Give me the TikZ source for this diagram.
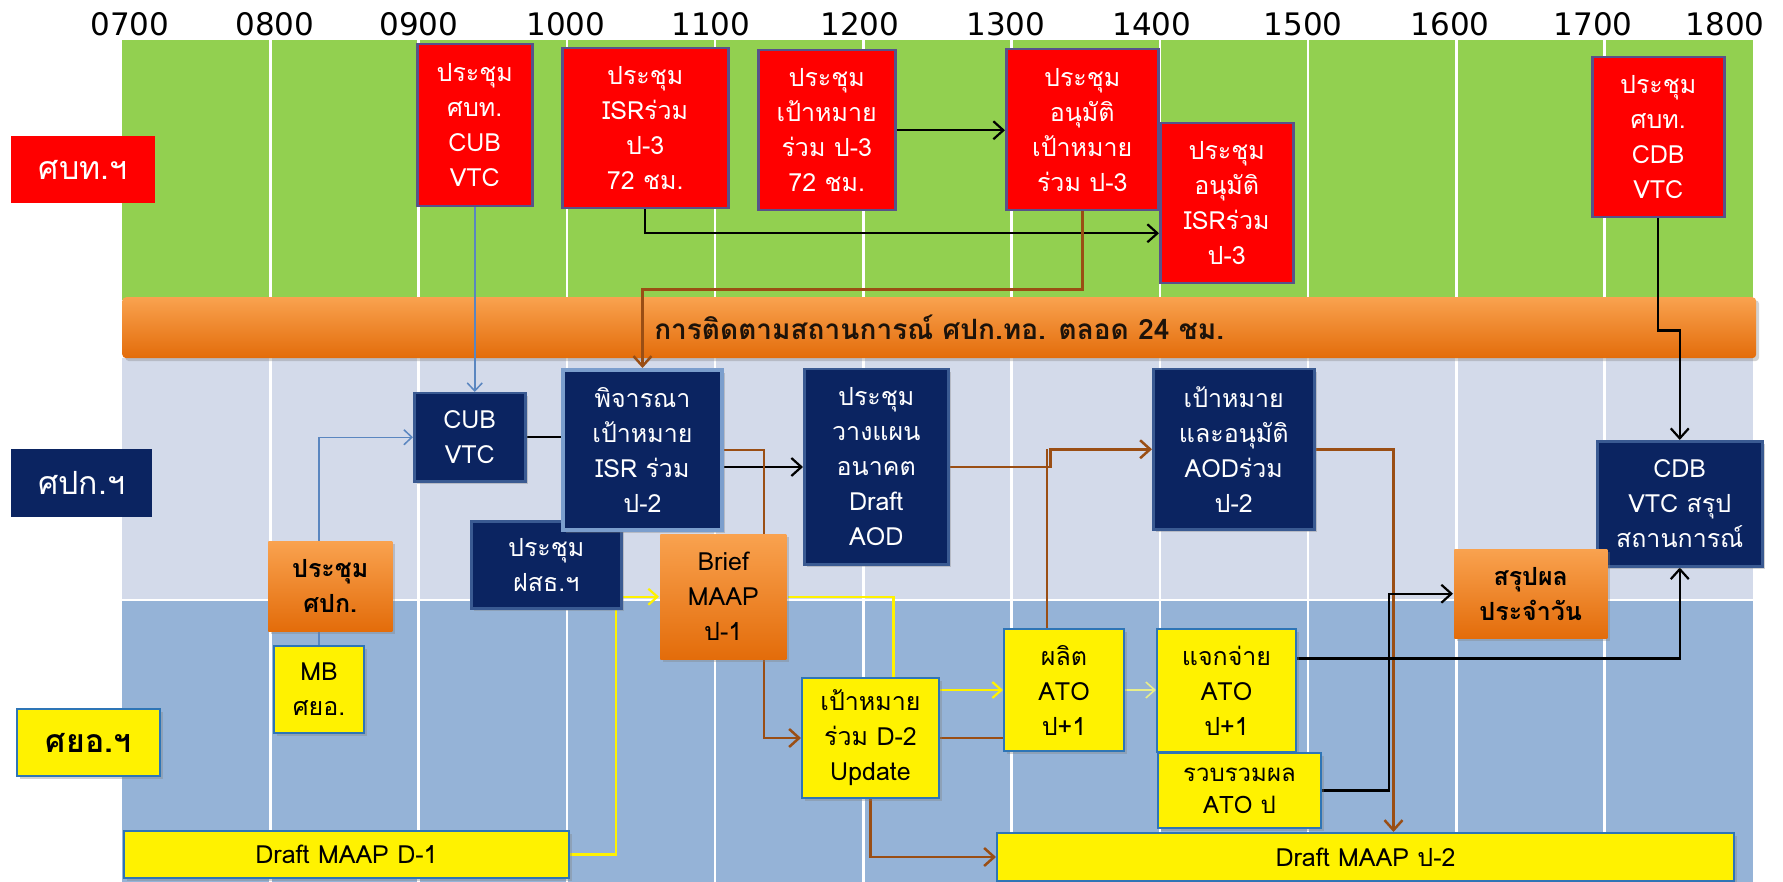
\documentclass[tikz,border=0pt]{standalone}
\usepackage{fontspec}
\setmainfont{Loma}[Script=Thai]
\newfontfamily\numfont{DejaVu Sans}
\usetikzlibrary{arrows.meta,calc,shadows,backgrounds}
\definecolor{lanegreen}{HTML}{92D050}
\definecolor{lanelight}{HTML}{D3DAEA}
\definecolor{laneblue}{HTML}{95B3D7}
\definecolor{navy}{HTML}{0B2461}
\definecolor{navyrim}{HTML}{3A5A92}
\definecolor{redrim}{HTML}{57528A}
\definecolor{ylwrim}{HTML}{2E75B6}
\definecolor{orgtop}{HTML}{F9A24F}
\definecolor{orgbot}{HTML}{E36C0A}
\definecolor{brn}{HTML}{9A4E14}
\definecolor{stl}{HTML}{5A86C0}
\definecolor{paleylw}{HTML}{E8EE8A}
\pgfdeclarelayer{conn}
\pgfsetlayers{background,conn,main}
\tikzset{
  sz/.style 2 args={minimum width=#1,minimum height=#2},
  shd/.style={drop shadow={shadow xshift=3pt,shadow yshift=-3pt,opacity=.35}},
  card/.style={draw,line width=2.5pt,anchor=north west,inner sep=0pt,align=center,font=\fontsize{25}{35}\selectfont},
  redbox/.style={card,fill=red,draw=redrim,text=white},
  navybox/.style={card,fill=navy,draw=navyrim,text=white,shd},
  ylwbox/.style={card,fill=yellow,draw=ylwrim,line width=2pt,text=black,shd},
  orgbox/.style={card,draw=none,top color=orgtop,bottom color=orgbot,text=black,shd},
  lanelbl/.style={anchor=north west,inner sep=0pt,font=\fontsize{32}{36}\selectfont},
  gridln/.style={white,line width=2.5pt},
  barr/.style={line width=2.2pt,-{Straight Barb[length=10pt,width=18pt]}},
  brarr/.style={brn,line width=2.5pt,-{Straight Barb[length=10pt,width=18pt]}},
  brln/.style={brn,line width=2.5pt},
  blarr/.style={stl,line width=1.5pt,-{Straight Barb[length=8pt,width=15pt]}},
  yarr/.style={yellow,line width=2.2pt,-{Straight Barb[length=9pt,width=16pt]}},
}
\begin{document}
\begin{tikzpicture}[x=1pt,y=-1pt]
\useasboundingbox (0,0) rectangle (1783,882);
\begin{pgfonlayer}{background}
 \fill[white] (0,0) rectangle (1783,882);
 \fill[lanegreen] (122,40) rectangle (1753,300);
 \fill[lanelight] (122,358) rectangle (1753,600);
 \fill[laneblue] (122,600) rectangle (1753,882);
 \foreach \k in {1,...,10} \draw[gridln] ({122+148.25*\k},40) -- ({122+148.25*\k},882);
 \draw[gridln] (122,600) -- (1753,600);
 \node[anchor=north west,sz={1634}{61},rounded corners=4pt,top color=orgtop,bottom color=orgbot,shd,font=\bfseries\fontsize{28}{30}\selectfont,text=black!85!brown] (watch) at (122,297) {การติดตามสถานการณ์ ศปก.ทอ. ตลอด 24 ชม.};
\end{pgfonlayer}
% time scale
\foreach \t/\x in {0700/130,0800/275,0900/419,1000/566,1100/711,1200/860,1300/1006,1400/1152,1500/1303,1600/1450,1700/1593,1800/1725}
 \node[font=\numfont\fontsize{31}{33}\selectfont] (t\t) at (\x,24) {\t};
% lanes
\node[lanelbl,fill=red,text=white,sz={144}{67}] (lr) at (11,136) {ศบท.ฯ};
\node[lanelbl,fill=navy,text=white,sz={141}{68}] (ln) at (11,449) {ศปก.ฯ};
\node[lanelbl,fill=yellow,draw=ylwrim,line width=2pt,shd,sz={143}{67},font=\bfseries\fontsize{32}{36}\selectfont] (ly) at (16,708) {ศยอ.ฯ};
% top lane
\node[redbox,sz={115}{162}] (r1) at (416,43) {ประชุม\\ศบท.\\CUB\\VTC};
\node[redbox,sz={166}{160}] (r2) at (561,47) {ประชุม\\ISRร่วม\\ป-3\\72 ชม.};
\node[redbox,sz={137}{160}] (r3) at (757,49) {ประชุม\\เป้าหมาย\\ร่วม ป-3\\72 ชม.};
\node[redbox,sz={152}{161}] (r4) at (1005,48) {ประชุม\\อนุมัติ\\เป้าหมาย\\ร่วม ป-3};
\node[redbox,sz={133}{160}] (r5) at (1159,122) {ประชุม\\อนุมัติ\\ISRร่วม\\ป-3};
\node[redbox,sz={132}{160}] (r6) at (1591,56) {ประชุม\\ศบท.\\CDB\\VTC};
% middle lane
\node[navybox,sz={111}{88}] (n1) at (413,392) {CUB\\VTC};
\node[navybox,sz={150}{87}] (n3) at (470,520) {ประชุม\\ฝสธ.ฯ};
\node[navybox,draw=stl!80!white,line width=4pt,sz={159}{160}] (n2) at (561,368) {พิจารณา\\เป้าหมาย\\ISR ร่วม\\ป-2};
\node[navybox,sz={144}{195}] (n4) at (803,368) {ประชุม\\วางแผน\\อนาคต\\Draft\\AOD};
\node[navybox,sz={161}{160}] (n5) at (1152,368) {เป้าหมาย\\และอนุมัติ\\AODร่วม\\ป-2};
\node[navybox,sz={165}{125}] (n6) at (1596,440) {CDB\\VTC สรุป\\สถานการณ์};
\node[orgbox,sz={124}{90},font=\bfseries\fontsize{25}{35}\selectfont] (o1) at (267,540) {ประชุม\\ศปก.};
\node[orgbox,sz={126}{125}] (o2) at (659,533) {Brief\\MAAP\\ป-1};
\node[orgbox,sz={153}{89},font=\bfseries\fontsize{25}{35}\selectfont] (o3) at (1453,548) {สรุปผล\\ประจำวัน};
% bottom lane
\node[ylwbox,sz={90}{87}] (y1) at (273,645) {MB\\ศยอ.};
\node[ylwbox,sz={445}{47}] (y2) at (123,830) {Draft MAAP D-1};
\node[ylwbox,sz={137}{120}] (y3) at (801,677) {เป้าหมาย\\ร่วม D-2\\Update};
\node[ylwbox,sz={120}{122}] (y4) at (1003,628) {ผลิต\\ATO\\ป+1};
\node[ylwbox,sz={139}{123}] (y5) at (1156,628) {แจกจ่าย\\ATO\\ป+1};
\node[ylwbox,sz={163}{75},font=\fontsize{24}{32}\selectfont] (y6) at (1157,752) {รวบรวมผล\\ATO ป};
\node[ylwbox,sz={737}{48}] (y7) at (996,832) {Draft MAAP ป-2};
% connectors
\begin{pgfonlayer}{conn}
 \draw[blarr] (r1.south) -- (r1.south |- n1.north);
 \draw[barr] (r2.south) |- ([yshift=-30pt]r5.west);
 \draw[barr] (r3.east) -- (r3.east -| r4.west);
 \draw[brarr] (r4.south) -- ++(0,78) -| (n2.north);
 \draw[barr] (r6.south) -- ++(0,112) -| (n6.north);
 \draw[blarr] (y1.north) |- (n1.west);
 \draw[line width=2.2pt] (n1.east) -- (n1.east -| n2.west);
 \draw[barr] ([yshift=-17pt]n2.east) -- ([yshift=-17pt]n2.east -| n4.west);
 \draw[brarr] (n2.east) -- ++(40,0) |- (y3.west);
 \draw[brarr] (n4.east) -- ++(101,0) |- (n5.west);
 \draw[brln] ([xshift=-17pt]y4.north) -- ([xshift=-17pt]y4.north |- n5.west);
 \draw[brln] (y3.east) -- (y3.east -| y4.west);
 \draw[brarr] (n5.east) -| ([xshift=28pt]y7.north);
 \draw[brarr] (y3.south) |- (y7.west);
 \draw[yarr] (y2.east) -- ++(46,0) |- (o2.west);
 \draw[yellow,line width=2.2pt] (o2.east) -| ([xshift=23pt]y3.north);
 \draw[yarr] (y3.east |- y4.west) -- (y4.west);
 \draw[yarr,paleylw,line width=1.6pt] (y4.east) -- (y4.east -| y5.west);
 \draw[barr] ([yshift=32pt]y5.east) -| (n6.south);
 \draw[barr] (y6.east) -- ++(67,0) |- (o3.west);
\end{pgfonlayer}
\end{tikzpicture}
\end{document}
